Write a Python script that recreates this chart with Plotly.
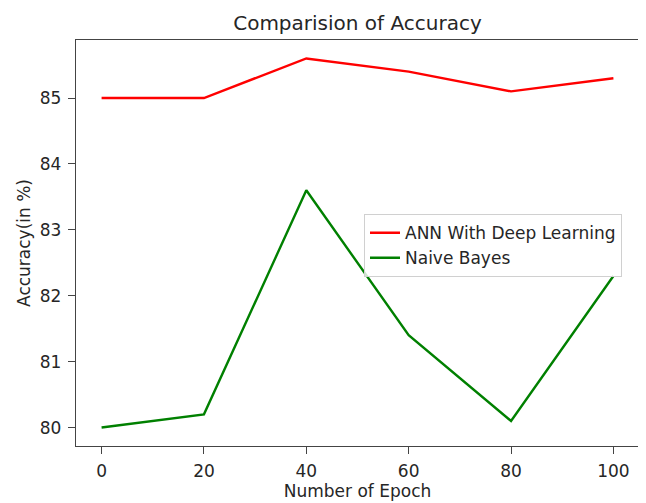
import plotly.graph_objects as go

epochs = [0, 20, 40, 60, 80, 100]
ann_acc = [85.0, 85.0, 85.6, 85.4, 85.1, 85.3]
nb_acc = [80.0, 80.2, 83.6, 81.4, 80.1, 82.3]
series_names = ["ANN With Deep Learning", "Naive Bayes"]

FONT = "DejaVu Sans"
TXT = "#262626"
AX = "#444444"

# The page body has an 8px margin, so the figure is drawn 8px right/down;
# size the figure so it fits the 646x503 window exactly.
W, H = 638, 495

fig = go.Figure()
fig.add_trace(go.Scatter(x=epochs, y=ann_acc, mode="lines", name=series_names[0],
                         line=dict(color="#ff0000", width=2.4)))
fig.add_trace(go.Scatter(x=epochs, y=nb_acc, mode="lines", name=series_names[1],
                         line=dict(color="#008000", width=2.4)))

axis_common = dict(showgrid=False, zeroline=False, showline=True, linecolor=AX,
                   linewidth=1.3, mirror=True, ticks="outside", ticklen=7,
                   tickwidth=1.3, tickcolor=AX, automargin=False,
                   tickfont=dict(family=FONT, size=17, color=TXT))

fig.update_layout(
    width=W, height=H,
    margin=dict(l=68, r=7, t=32, b=57),
    paper_bgcolor="white", plot_bgcolor="white",
    title=dict(text="Comparision of Accuracy", x=(68 + (W - 7 - 68) / 2) / W,
               xanchor="center", y=1 - 15 / H, yanchor="middle", yref="container",
               font=dict(family=FONT, size=20, color=TXT)),
    xaxis=dict(range=[-5, 105], tickvals=[0, 20, 40, 60, 80, 100],
               ticklabelstandoff=2,
               title=dict(text="Number of Epoch", standoff=4,
                          font=dict(family=FONT, size=17, color=TXT)),
               **axis_common),
    yaxis=dict(range=[79.72, 85.88], tickvals=[80, 81, 82, 83, 84, 85],
               ticklabelstandoff=3,
               title=dict(text="Accuracy(in %)", standoff=4,
                          font=dict(family=FONT, size=17, color=TXT)),
               **axis_common),
    legend=dict(x=(364 - 76) / 563, y=0.571, xanchor="left", yanchor="top",
                entrywidth=225, entrywidthmode="pixels",
                bgcolor="rgba(255,255,255,0.8)", bordercolor="#d0d0d0",
                borderwidth=1, font=dict(family=FONT, size=17, color=TXT)),
    showlegend=True,
)

fig.write_html("out.html")
